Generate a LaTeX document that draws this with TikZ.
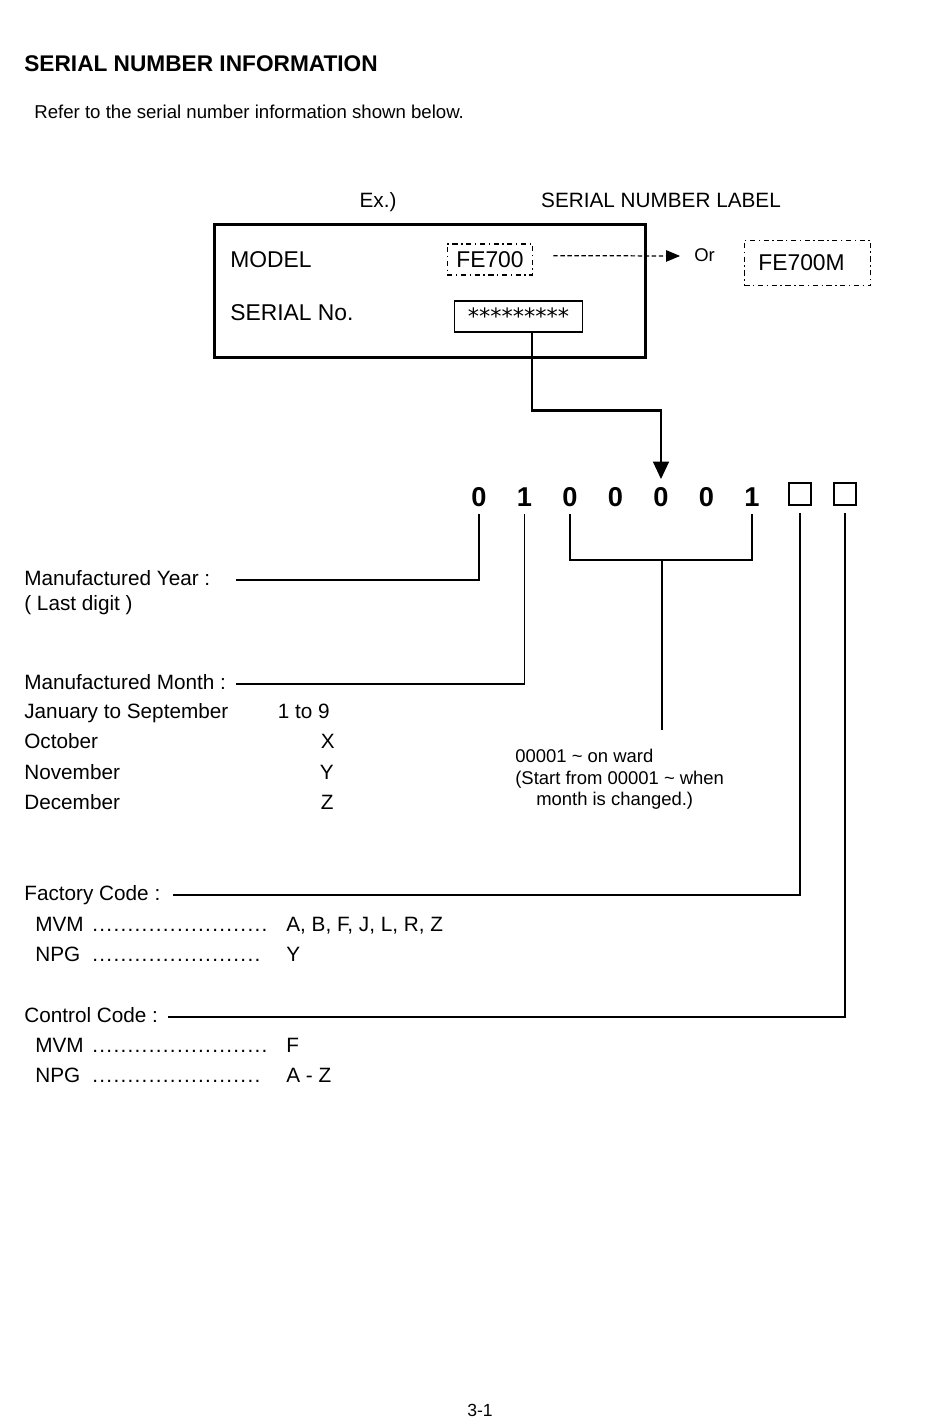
\documentclass[tikz,border=0pt]{standalone}
\usepackage{fontspec}
\setmainfont{Liberation Sans}
\newfontfamily\starfont{DejaVu Sans}
\usetikzlibrary{arrows.meta,positioning}

\newcommand{\leaderdots}{\leaders\hbox to 0.34em{\hss.\hss}\hfill}

\begin{document}
\begin{tikzpicture}[
  x=0.02cm, y=-0.02cm,
  txt/.style={anchor=west, inner sep=0pt, text height=1.5ex, text depth=.25ex, font=\fontsize{11.8}{14}\selectfont},
  small/.style={txt, font=\fontsize{10.5}{12.2}\selectfont},
  boxtxt/.style={txt, font=\fontsize{13}{15}\selectfont},
  digit/.style={inner sep=0pt, outer sep=4.5pt, anchor=base, font=\fontsize{15.5}{18}\selectfont\bfseries},
  blank/.style={draw, line width=0.8pt, minimum size=12.5pt, inner sep=0pt, outer sep=4.5pt},
  dashdotbox/.style={draw, line width=0.7pt, inner sep=0pt, dash pattern=on 3pt off 2pt on 0.8pt off 2pt},
  lead/.style={line width=0.85pt},
  feed/.style={line width=1.3pt, -{Triangle[length=10pt, width=9pt]}},
  dasharrow/.style={line width=0.7pt, dash pattern=on 2.5pt off 1.5pt, -{Triangle[length=8pt, width=6.5pt]}}
]
\useasboundingbox (0,0) rectangle (950,1420);

% heading
\node[txt, font=\fontsize{12.9}{15}\selectfont\bfseries] (title) at (24,66) {SERIAL NUMBER INFORMATION};
\node[txt, font=\fontsize{10.6}{12}\selectfont] (intro) at (34,113) {Refer to the serial number information shown below.};

% label example
\node[txt, anchor=center] (ex) at (378,202) {Ex.)};
\node[txt, anchor=center] (labeltitle) at (661,202) {SERIAL NUMBER LABEL};
\node[draw, line width=1.7pt, minimum width=244.9pt, minimum height=76pt] (labelbox) at (430,291) {};
\node[boxtxt] (model) at (230,262) {MODEL};
\node[boxtxt] (serialno) at (230,315) {SERIAL No.};
\node[dashdotbox, font=\fontsize{13}{15}\selectfont, minimum width=48.8pt, minimum height=17.6pt] (modelval) at (490,259.5) {FE700};
\node[draw, line width=0.7pt, inner sep=0pt, minimum width=73.1pt, minimum height=17.6pt, font=\starfont\fontsize{12.8}{14}\selectfont] (serialval) at (518.5,316.5) {\raisebox{-0.25em}{*********}};
\node[small] (orlbl) at (694,256) {Or};
\node[dashdotbox, font=\fontsize{13}{15}\selectfont, minimum width=72pt, minimum height=26pt] (altmodel) at (807.5,263) {FE700M\hspace*{6.8pt}};
\draw[dasharrow] ([xshift=11.3pt, yshift=2.2pt]modelval.east) -- ([xshift=-7.9pt]orlbl.west);

% serial digits
\foreach \n [count=\i] in {0,1,0,0,0,0,1}
  \node[digit] (d\i) at ({479+(\i-1)*45.5},506) {\n};
\node[blank] (sq1) at (800,494) {};
\node[blank] (sq2) at (845,494) {};
\draw[feed] ([xshift=7.7pt]serialval.south) -- ++(0,78) -| (d5.north);

% year and month
\node[txt] (year) at (24,580) {Manufactured Year :};
\node[txt] (lastdigit) at (24,605) {( Last digit )};
\node[txt] (month) at (24,684) {Manufactured Month :};
\node[txt] (jan) at (24,713) {January to September};
\node[txt] (oct) at (24,743) {October};
\node[txt] (nov) at (24,774) {November};
\node[txt] (dec) at (24,804) {December};
\node[txt, anchor=east] (janval) at (330,713) {1 to 9};
\node[txt, anchor=east] (octval) at (335,743) {X};
\node[txt, anchor=east] (novval) at (334,774) {Y};
\node[txt, anchor=east] (decval) at (334,804) {Z};

% running number
\node[anchor=north west, inner sep=0pt, align=left, font=\fontsize{10.5}{12.2}\selectfont] (note) at (515,749)
  {00001 \textasciitilde{} on ward\\(Start from 00001 \textasciitilde{} when\\\hspace*{11.9pt}month is changed.)};
\coordinate (brk) at (662,560);
\coordinate (notetop) at (662,730);

% factory and control codes
\node[txt] (factory) at (24,895) {Factory Code :};
\node[txt] (fmvm) at (35,926) {\makebox[133pt][l]{MVM \leaderdots}};
\node[txt] (fmvmval) at (286,926) {A, B, F, J, L, R, Z};
\node[txt] (fnpg) at (35,956) {\makebox[132pt][l]{NPG \leaderdots}};
\node[txt] (fnpgval) at (286,956) {Y};
\node[txt] (control) at (24,1017) {Control Code :};
\node[txt] (cmvm) at (35,1047) {\makebox[133pt][l]{MVM \leaderdots}};
\node[txt] (cmvmval) at (286,1047) {F};
\node[txt] (cnpg) at (35,1077) {\makebox[132pt][l]{NPG \leaderdots}};
\node[txt] (cnpgval) at (286,1077) {A - Z};

% leader lines
\draw[lead] (d1.south) |- ([xshift=14.7pt]year.east);
\draw[lead] (d2.south) |- ([xshift=5.6pt]month.east);
\draw[lead] (d3.south) |- (brk) -| (d7.south);
\draw[lead] (brk) -- (notetop);
\draw[lead] (sq1.south) |- ([xshift=6.8pt]factory.east);
\draw[lead] (sq2.south) |- ([xshift=5.7pt]control.east);

\node[txt, anchor=center, font=\fontsize{10}{12}\selectfont] (page) at (480,1411) {3-1};
\end{tikzpicture}
\end{document}
